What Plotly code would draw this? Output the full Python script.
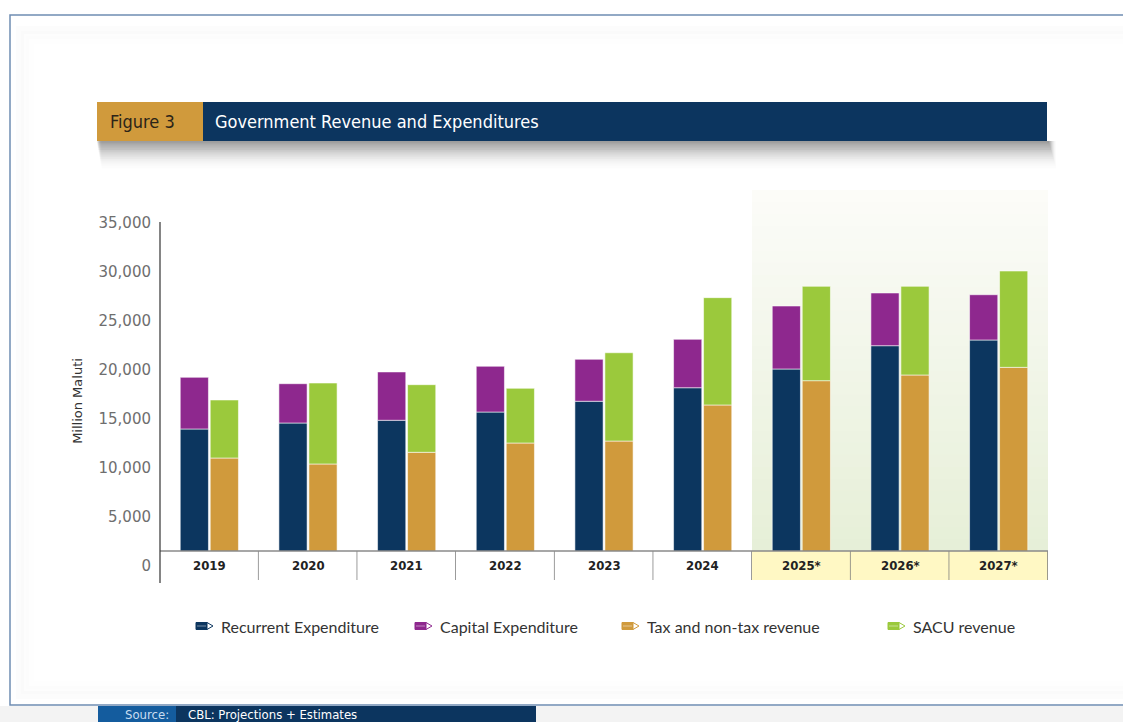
import plotly.graph_objects as go

# ---------------- data ----------------
categories = ["2019", "2020", "2021", "2022", "2023", "2024", "2025*", "2026*", "2027*"]
recurrent_exp = [13950, 14560, 14840, 15680, 16780, 18160, 20070, 22450, 23030]
capital_exp = [5270, 4010, 4930, 4670, 4280, 4940, 6430, 5380, 4620]
tax_revenue = [10990, 10380, 11570, 12520, 12720, 16400, 18880, 19460, 20240]
sacu_revenue = [5920, 8260, 6900, 5580, 9010, 10950, 9630, 9050, 9830]
series_names = ["Recurrent Expenditure", "Capital Expenditure", "Tax and non-tax revenue", "SACU revenue"]
y_tick_values = [0, 5000, 10000, 15000, 20000, 25000, 30000, 35000]
y_title = "Million Maluti"
fig_label = "Figure 3"
fig_title = "Government Revenue and Expenditures"
source_label = "Source:"
source_text = "CBL: Projections + Estimates"

# ---------------- styles ----------------
NAVY = "#0C365F"
PURPLE = "#8E288E"
GOLD = "#D09A3C"
GREEN = "#9BC93C"
colors = [NAVY, PURPLE, GOLD, GREEN]
NARROW = "Liberation Sans Narrow, DejaVu Sans Condensed, Roboto Condensed, Arial Narrow, Roboto, sans-serif"

W, H = 1123, 722
L, R, T, B = 160, 1048, 222, 580  # plot area in pixels


def X(px):
    return (px - L) / (R - L)


def Y(py):
    return (B - py) / (B - T)


fig = go.Figure()
outline = dict(color="rgba(255,255,255,0.55)", width=1)
fig.add_trace(go.Bar(x=categories, y=recurrent_exp, name=series_names[0], offsetgroup="exp",
                     marker=dict(color=NAVY, line=outline)))
fig.add_trace(go.Bar(x=categories, y=capital_exp, base=recurrent_exp, name=series_names[1], offsetgroup="exp",
                     marker=dict(color=PURPLE, line=outline)))
fig.add_trace(go.Bar(x=categories, y=tax_revenue, name=series_names[2], offsetgroup="rev",
                     marker=dict(color=GOLD, line=outline)))
fig.add_trace(go.Bar(x=categories, y=sacu_revenue, base=tax_revenue, name=series_names[3], offsetgroup="rev",
                     marker=dict(color=GREEN, line=outline)))

shapes = []
annotations = []

# outer frame and page shading
shapes.append(dict(type="rect", xref="paper", yref="paper", x0=X(0), x1=X(W + 10), y0=Y(730), y1=Y(706),
                   fillcolor="#f3f3f3", line=dict(width=0), layer="below"))
shapes.append(dict(type="rect", xref="paper", yref="paper", x0=X(10), x1=X(1140), y0=Y(705), y1=Y(15),
                   fillcolor="rgba(0,0,0,0)", line=dict(color="#6f8db3", width=1.5), layer="below"))
for i, a in enumerate([0.010, 0.007, 0.004]):
    d = 5 * i
    shapes.append(dict(type="rect", xref="paper", yref="paper", x0=X(20 + d), x1=X(1160), y0=Y(695 - d),
                       y1=Y(30 + d), fillcolor="rgba(0,0,0,0)", line=dict(color=f"rgba(0,0,0,{a})", width=8),
                       layer="below"))

# header shadow (soft gray band)
for i in range(16):
    a = 0.05 * (1 - i / 16)
    shapes.append(dict(type="rect", xref="paper", yref="paper", x0=X(97 + i * 0.3), x1=X(1049 + i * 0.5),
                       y0=Y(141 + 1.8 * (i + 1)), y1=Y(141), fillcolor=f"rgba(0,0,0,{a:.3f})",
                       line=dict(width=0), layer="below"))
# header boxes
shapes.append(dict(type="rect", xref="paper", yref="paper", x0=X(97), x1=X(203), y0=Y(141), y1=Y(102),
                   fillcolor=GOLD, line=dict(width=0)))
shapes.append(dict(type="rect", xref="paper", yref="paper", x0=X(203), x1=X(1047), y0=Y(141), y1=Y(102),
                   fillcolor="#0C355F", line=dict(width=0)))
annotations.append(dict(text=fig_label, xref="paper", yref="paper", x=X(108), y=Y(122), xanchor="left",
                        yanchor="middle", showarrow=False, font=dict(family=NARROW, size=18, color="#2b2418")))
annotations.append(dict(text=fig_title, xref="paper", yref="paper", x=X(213), y=Y(122), xanchor="left",
                        yanchor="middle", showarrow=False, font=dict(family=NARROW, size=18, color="white")))

# projection shading (gradient) over projected categories
proj_idx = [i for i, c in enumerate(categories) if c.endswith("*")]
x_start, x_end = proj_idx[0] - 0.5, proj_idx[-1] + 0.5
n = 30
top_px, bot_px = 190, 551
c_top = (252, 252, 249)
c_bot = (230, 239, 215)
for k in range(n):
    t = (k + 0.5) / n
    col = tuple(int(round(c_top[j] + (c_bot[j] - c_top[j]) * t)) for j in range(3))
    y1p = top_px + (bot_px - top_px) * k / n
    y0p = top_px + (bot_px - top_px) * (k + 1) / n + 0.6
    shapes.append(dict(type="rect", xref="x", yref="paper", x0=x_start, x1=x_end, y0=Y(y0p), y1=Y(y1p),
                       fillcolor="rgb(%d,%d,%d)" % col, line=dict(width=0), layer="below"))

# category box covering the bar bases
for i, c in enumerate(categories):
    fill = "#FFF8C4" if c.endswith("*") else "white"
    x0 = i - 0.5 + (0.012 if i == 0 else 0)
    shapes.append(dict(type="rect", xref="x", yref="paper", x0=x0, x1=i + 0.5, y0=0, y1=Y(551),
                       fillcolor=fill, line=dict(width=0), layer="above"))
    shapes.append(dict(type="line", xref="x", yref="paper", x0=i + 0.5, x1=i + 0.5, y0=0, y1=Y(551),
                       line=dict(color="#7a7a7a", width=1.5), layer="above"))
    annotations.append(dict(text="<b>%s</b>" % c, xref="x", yref="paper", x=i, y=Y(565), xanchor="center",
                            yanchor="middle", showarrow=False, font=dict(family=NARROW, size=13, color="#222")))
shapes.append(dict(type="line", xref="paper", yref="paper", x0=0, x1=1, y0=Y(551), y1=Y(551),
                   line=dict(color="#8a8a8a", width=1.5), layer="above"))
shapes.append(dict(type="line", xref="paper", yref="paper", x0=0, x1=0, y0=Y(583), y1=1,
                   line=dict(color="#333", width=1.2), layer="above"))

# manual legend with pencil icons
legend_icon_x = [196, 415, 622, 888]
leg_y = 626
for name, col, x0 in zip(series_names, colors, legend_icon_x):
    body = "M %f %f L %f %f L %f %f L %f %f Z" % (X(x0), Y(leg_y - 3.5), X(x0 + 11), Y(leg_y - 3.5),
                                                   X(x0 + 11), Y(leg_y + 3.5), X(x0), Y(leg_y + 3.5))
    shapes.append(dict(type="path", xref="paper", yref="paper", path=body, fillcolor=col,
                       line=dict(color=col, width=1)))
    stripe = "M %f %f L %f %f" % (X(x0 + 1), Y(leg_y), X(x0 + 10), Y(leg_y))
    shapes.append(dict(type="path", xref="paper", yref="paper", path=stripe,
                       line=dict(color="rgba(255,255,255,0.45)", width=1)))
    tip = "M %f %f L %f %f L %f %f Z" % (X(x0 + 11), Y(leg_y - 3.5), X(x0 + 17), Y(leg_y),
                                         X(x0 + 11), Y(leg_y + 3.5))
    shapes.append(dict(type="path", xref="paper", yref="paper", path=tip, fillcolor="white",
                       line=dict(color=col, width=1)))
    annotations.append(dict(text=name, xref="paper", yref="paper", x=X(x0 + 23), y=Y(leg_y), xanchor="left",
                            yanchor="middle", showarrow=False,
                            font=dict(family="Lato, Noto Sans, sans-serif", size=16, color="#333")))

# source bar
shapes.append(dict(type="rect", xref="paper", yref="paper", x0=X(98), x1=X(176), y0=Y(730), y1=Y(706),
                   fillcolor="#145C9E", line=dict(width=0)))
shapes.append(dict(type="rect", xref="paper", yref="paper", x0=X(176), x1=X(536), y0=Y(730), y1=Y(706),
                   fillcolor="#0C355F", line=dict(width=0)))
annotations.append(dict(text=source_label, xref="paper", yref="paper", x=X(171), y=Y(714.5), xanchor="right",
                        yanchor="middle", showarrow=False, font=dict(family=NARROW, size=13, color="#c9dcf0")))
annotations.append(dict(text=source_text, xref="paper", yref="paper", x=X(186), y=Y(714.5), xanchor="left",
                        yanchor="middle", showarrow=False, font=dict(family=NARROW, size=13, color="white")))

# y axis range: 0 sits at the "0" label, 35,000 at the top label
px_per_unit = (565.7 - 222.7) / 35000.0
y_lo = -(B - 565.7) / px_per_unit
y_hi = (565.7 - T) / px_per_unit

fig.update_layout(
    width=W, height=H,
    margin=dict(l=L, r=W - R, t=T, b=H - B, pad=0),
    paper_bgcolor="white", plot_bgcolor="rgba(0,0,0,0)",
    barmode="group", bargap=0.392, bargroupgap=0.06,
    showlegend=False,
    shapes=shapes, annotations=annotations,
    xaxis=dict(type="category", range=[-0.5, len(categories) - 0.5], showgrid=False, zeroline=False,
               showline=False, showticklabels=False, ticks="", fixedrange=True),
    yaxis=dict(range=[y_lo, y_hi], tickvals=y_tick_values, tickformat=",d", showgrid=False, zeroline=False,
               showline=False, ticks="", ticklabelstandoff=8,
               tickfont=dict(family="DejaVu Sans, Verdana, sans-serif", size=15, color="#6e6e6e"),
               title=dict(text=y_title, standoff=12,
                          font=dict(family="DejaVu Sans, Verdana, sans-serif", size=13, color="#333"))),
)

fig.write_html("out.html", config={"displayModeBar": False},
               post_script="document.body.style.margin='0';document.body.style.overflow='hidden';")
